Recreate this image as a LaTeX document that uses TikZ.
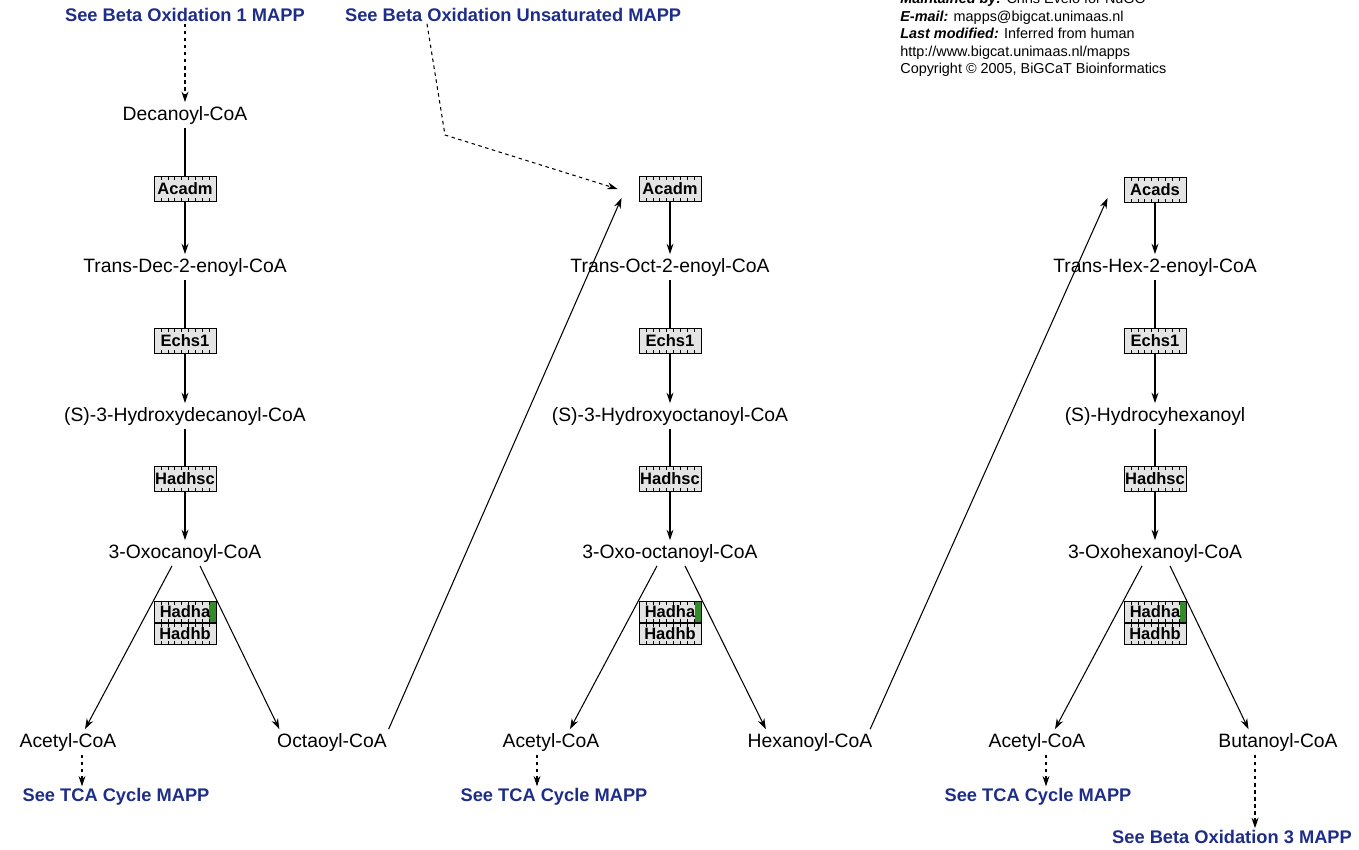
\documentclass[tikz,border=0pt]{standalone}
\usepackage{fontspec}
\setmainfont{Liberation Sans}
\usetikzlibrary{arrows.meta,positioning,calc}
\definecolor{mappblue}{RGB}{30,45,135}
\definecolor{genefill}{RGB}{228,228,228}
\definecolor{hadgreen}{RGB}{50,140,40}
\newcommand{\geneticks}{%
  \foreach \i in {1,...,8} {
    \draw[line width=0.3pt] ($(path picture bounding box.north west)!\i/9!(path picture bounding box.north east)$) -- ++(0,-0.07cm);
    \draw[line width=0.3pt] ($(path picture bounding box.south west)!\i/9!(path picture bounding box.south east)$) -- ++(0,0.07cm);
  }}
\begin{document}
\begin{tikzpicture}[x=0.02cm, y=-0.02cm,
    metab/.style={font=\fontsize{11}{13}\selectfont, inner sep=2pt},
    mapplink/.style={font=\fontsize{10.4}{12}\selectfont\bfseries, text=mappblue, inner sep=1pt},
    gene/.style={draw, fill=genefill, line width=0.5pt, minimum width=1.24cm, minimum height=0.5cm,
      inner sep=0pt, font=\fontsize{9.4}{11}\selectfont\bfseries, path picture={\geneticks}},
    genehalf/.style={gene, minimum height=0.42cm},
    genegreen/.style={genehalf, path picture={\fill[hadgreen] ([xshift=-0.13cm]path picture bounding box.north east)
      rectangle (path picture bounding box.south east); \geneticks}},
    rxn/.style={-{Stealth[length=6pt,width=4pt]}, line width=0.6pt},
    link/.style={rxn, dash pattern=on 2pt off 2pt},
    info/.style={font=\fontsize{8.2}{10}\selectfont, anchor=base west, inner sep=0pt}]
  \useasboundingbox (0,0) rectangle (1359,849);

  \node[info] (info1) at (900,3.5) {\textbf{\textit{Maintained by:}} Chris Evelo for NuGO};
  \node[info] (info2) at (900,21) {\textbf{\textit{E-mail:}} mapps@bigcat.unimaas.nl};
  \node[info] (info3) at (900,38.5) {\textbf{\textit{Last modified:}} Inferred from human};
  \node[info] (info4) at (900,56) {http://www.bigcat.unimaas.nl/mapps};
  \node[info] (info5) at (900,73.5) {Copyright © 2005, BiGCaT Bioinformatics};

  \node[mapplink, anchor=west] (bo1) at (63,15) {See Beta Oxidation 1 MAPP};
  \node[mapplink, anchor=west] (bounsat) at (343,15) {See Beta Oxidation Unsaturated MAPP};

  \node[metab] (deca) at (185,115) {Decanoyl-CoA};
  \node[gene] (acadm1) at (185,189) {Acadm};
  \node[metab] (tdec) at (185,267) {Trans-Dec-2-enoyl-CoA};
  \node[gene] (echs1a) at (185,341) {Echs1};
  \node[metab] (hdec) at (185,416) {(S)-3-Hydroxydecanoyl-CoA};
  \node[gene] (hadhsc1) at (185,479) {Hadhsc};
  \node[metab] (oxo1) at (185,553) {3-Oxocanoyl-CoA};
  \node[genegreen] (hadha1) at (185,612) {Hadha};
  \node[genehalf, below=0pt of hadha1] (hadhb1) {Hadhb};
  \node[metab] (acet1) at (68,742) {Acetyl-CoA};
  \node[metab] (octa) at (332,742) {Octaoyl-CoA};
  \node[mapplink] (tca1) at (116,797) {See TCA Cycle MAPP};

  \node[gene] (acadm2) at (670,189) {Acadm};
  \node[metab] (toct) at (670,267) {Trans-Oct-2-enoyl-CoA};
  \node[gene] (echs1b) at (670,341) {Echs1};
  \node[metab] (hoct) at (670,416) {(S)-3-Hydroxyoctanoyl-CoA};
  \node[gene] (hadhsc2) at (670,479) {Hadhsc};
  \node[metab] (oxo2) at (670,553) {3-Oxo-octanoyl-CoA};
  \node[genegreen] (hadha2) at (670,612) {Hadha};
  \node[genehalf, below=0pt of hadha2] (hadhb2) {Hadhb};
  \node[metab] (acet2) at (551,742) {Acetyl-CoA};
  \node[metab] (hexa) at (810,742) {Hexanoyl-CoA};
  \node[mapplink] (tca2) at (554,797) {See TCA Cycle MAPP};

  \node[gene] (acads) at (1155,190) {Acads};
  \node[metab] (thex) at (1155,267) {Trans-Hex-2-enoyl-CoA};
  \node[gene] (echs1c) at (1155,341) {Echs1};
  \node[metab] (hhex) at (1155,416) {(S)-Hydrocyhexanoyl};
  \node[gene] (hadhsc3) at (1155,479) {Hadhsc};
  \node[metab] (oxo3) at (1155,553) {3-Oxohexanoyl-CoA};
  \node[genegreen] (hadha3) at (1155,612) {Hadha};
  \node[genehalf, below=0pt of hadha3] (hadhb3) {Hadhb};
  \node[metab] (acet3) at (1037,742) {Acetyl-CoA};
  \node[metab] (buta) at (1278,742) {Butanoyl-CoA};
  \node[mapplink] (tca3) at (1038,797) {See TCA Cycle MAPP};
  \node[mapplink] (bo3) at (1232,837) {See Beta Oxidation 3 MAPP};

  \draw[link] (deca.north |- bo1.south) -- (deca.north);
  \draw[line width=0.6pt] (deca) -- (acadm1);
  \draw[rxn] (acadm1) -- (tdec);
  \draw[line width=0.6pt] (tdec) -- (echs1a);
  \draw[rxn] (echs1a) -- (hdec);
  \draw[line width=0.6pt] (hdec) -- (hadhsc1);
  \draw[rxn] (hadhsc1) -- (oxo1);
  \draw[rxn] ($(oxo1.south)+(-13,0)$) -- ($(acet1.north)+(17,0)$);
  \draw[rxn] ($(oxo1.south)+(15,0)$) -- ($(octa.north west)+(6,0)$);
  \draw[link] ([xshift=0.28cm]acet1.south) -- ([xshift=0.28cm]acet1.south |- tca1.north);

  \coordinate (bend) at (445,135);
  \draw[link] ($(bounsat.south west)+(84,0)$) -- (bend) -- ($(acadm2.west)+(-21,0)$);
  \draw[rxn] ($(octa.north east)+(-2,0)$) -- ($(acadm2.south west)+(-17,-4)$);
  \draw[rxn] (acadm2) -- (toct);
  \draw[line width=0.6pt] (toct) -- (echs1b);
  \draw[rxn] (echs1b) -- (hoct);
  \draw[line width=0.6pt] (hoct) -- (hadhsc2);
  \draw[rxn] (hadhsc2) -- (oxo2);
  \draw[rxn] ($(oxo2.south)+(-13,0)$) -- ($(acet2.north)+(19,0)$);
  \draw[rxn] ($(oxo2.south)+(15,0)$) -- ($(hexa.north west)+(22,0)$);
  \draw[link] ([xshift=-0.28cm]acet2.south) -- ([xshift=-0.28cm]acet2.south |- tca2.north);

  \draw[rxn] ($(hexa.north east)+(-6,0)$) -- ($(acads.south west)+(-16,-5)$);
  \draw[rxn] (acads) -- (thex);
  \draw[line width=0.6pt] (thex) -- (echs1c);
  \draw[rxn] (echs1c) -- (hhex);
  \draw[line width=0.6pt] (hhex) -- (hadhsc3);
  \draw[rxn] (hadhsc3) -- (oxo3);
  \draw[rxn] ($(oxo3.south)+(-13,0)$) -- ($(acet3.north)+(18,0)$);
  \draw[rxn] ($(oxo3.south)+(15,0)$) -- ($(buta.north west)+(34,0)$);
  \draw[link] ([xshift=0.18cm]acet3.south) -- ([xshift=0.18cm]acet3.south |- tca3.north);
  \draw[link] ([xshift=-0.46cm]buta.south) -- ([xshift=-0.46cm]buta.south |- bo3.north);
\end{tikzpicture}
\end{document}
